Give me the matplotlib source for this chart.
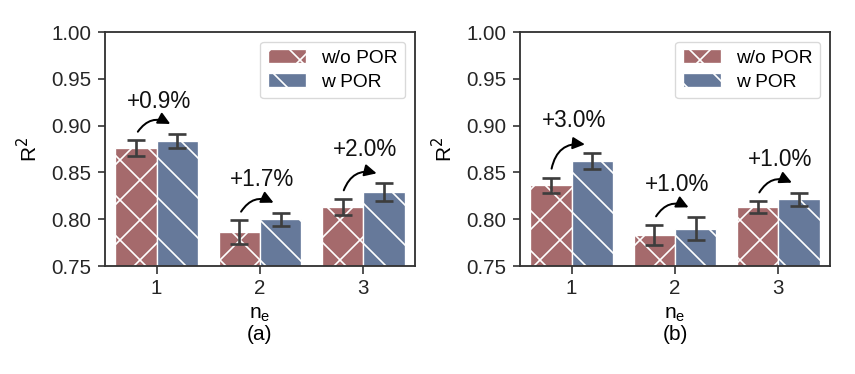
import numpy as np
import matplotlib
matplotlib.use('Agg')
import matplotlib.pyplot as plt

# data
NE = [1, 2, 3]
LABELS = ['w/o POR', 'w POR']
TAGS = ['(a)', '(b)']

A_WO = [0.876, 0.786, 0.813]
A_WO_ERR = [0.0085, 0.013, 0.0085]
A_W = [0.8835, 0.800, 0.829]
A_W_ERR = [0.0075, 0.007, 0.010]
A_GAIN = ['+0.9%', '+1.7%', '+2.0%']

B_WO = [0.8365, 0.783, 0.813]
B_WO_ERR = [0.008, 0.011, 0.0065]
B_W = [0.862, 0.790, 0.8215]
B_W_ERR = [0.0085, 0.012, 0.007]
B_GAIN = ['+3.0%', '+1.0%', '+1.0%']

YTICKS = [0.75, 0.80, 0.85, 0.90, 0.95, 1.00]

RED = '#a56a6c'
BLUE = '#66799a'
ECOL = '#3d3d3d'

plt.rcParams['font.family'] = ['Liberation Sans', 'DejaVu Sans']
plt.rcParams['font.size'] = 12.5
plt.rcParams['hatch.linewidth'] = 1.0
plt.rcParams['axes.edgecolor'] = '#333333'
plt.rcParams['axes.linewidth'] = 1.1
plt.rcParams['xtick.color'] = '#333333'
plt.rcParams['ytick.color'] = '#333333'
plt.rcParams['xtick.labelcolor'] = '#262626'
plt.rcParams['ytick.labelcolor'] = '#262626'

def draw_panel(ax, wo, wo_err, w, w_err, gains, tag):
  x = np.array(NE, dtype=float)
  bw = 0.4
  ax.bar(x - bw/2, wo, bw, color=RED, edgecolor='white',
         linewidth=0.8, hatch='x', label=LABELS[0], zorder=2)
  ax.bar(x + bw/2, w, bw, color=BLUE, edgecolor='white',
         linewidth=0.8, hatch='\\', label=LABELS[1], zorder=2)
  ax.errorbar(x - bw/2, wo, yerr=wo_err, fmt='none', ecolor=ECOL,
              elinewidth=1.6, capsize=5.5, capthick=1.6, zorder=3)
  ax.errorbar(x + bw/2, w, yerr=w_err, fmt='none', ecolor=ECOL,
              elinewidth=1.6, capsize=5.5, capthick=1.6, zorder=3)

  for i in range(len(x)):
    y0 = wo[i] + wo_err[i] + 0.006
    y1 = w[i] + w_err[i] + 0.009
    ax.annotate('', xy=(x[i] + 0.16, y1), xytext=(x[i] - 0.2, y0),
                arrowprops=dict(arrowstyle='-|>', color='black', lw=1.2,
                                mutation_scale=15,
                                connectionstyle='arc3,rad=-0.5'),
                zorder=4)
    ax.text(x[i] + 0.02, y1 + 0.026, gains[i], ha='center', va='center',
            fontsize=13.5, color='#111111')

  ax.set_xlim(0.5, 3.5)
  ax.set_ylim(0.75, 1.0)
  ax.set_xticks(NE)
  ax.set_yticks(YTICKS)
  ax.set_yticklabels(['%.2f' % v for v in YTICKS])
  ax.set_ylabel('R$^2$', labelpad=6)
  ax.set_xlabel('n$_{\\mathregular{e}}$\n' + tag, linespacing=1.05, labelpad=4)
  ax.tick_params(length=4.5, width=1.0, labelsize=12.3)
  leg = ax.legend(loc='upper right', fontsize=11.5, frameon=True,
                  fancybox=True, borderpad=0.4, handlelength=2.0,
                  handletextpad=0.8, labelspacing=0.35)
  leg.get_frame().set_edgecolor('#d0d0d0')
  leg.get_frame().set_linewidth(0.8)

fig = plt.figure(figsize=(855/120.0, 374/120.0), dpi=120)
ax1 = fig.add_axes([105/855.0, 1 - 266/374.0, 310/855.0, 234/374.0])
ax2 = fig.add_axes([520/855.0, 1 - 266/374.0, 310/855.0, 234/374.0])

draw_panel(ax1, A_WO, A_WO_ERR, A_W, A_W_ERR, A_GAIN, TAGS[0])
draw_panel(ax2, B_WO, B_WO_ERR, B_W, B_W_ERR, B_GAIN, TAGS[1])

fig.savefig('out.png', dpi=120)
